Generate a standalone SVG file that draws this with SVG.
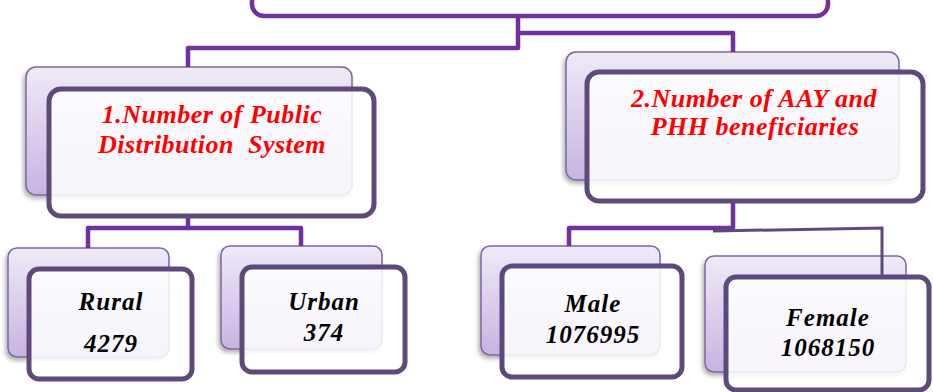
<svg xmlns="http://www.w3.org/2000/svg" width="933" height="392" viewBox="0 0 933 392">
<defs>
<linearGradient id="bg" x1="0" y1="0" x2="0" y2="1">
<stop offset="0" stop-color="#efeaf7"/>
<stop offset="1" stop-color="#c6b4e1"/>
</linearGradient>
<filter id="sh" x="-10%" y="-10%" width="120%" height="130%">
<feDropShadow dx="-2" dy="3" stdDeviation="2" flood-color="#000" flood-opacity="0.3"/>
</filter>
</defs>
<style>
.back{fill:url(#bg);stroke:#8064a2;stroke-width:1.5;filter:url(#sh)}
.front{fill:#ffffff;fill-opacity:0.85;stroke:#5f497a;stroke-width:5}
.conn{fill:none;stroke:#7030a0;stroke-width:4.5;stroke-linejoin:round}
.conn2{fill:none;stroke:#5f497a;stroke-width:3}
.h{font-family:"Liberation Serif",serif;font-style:italic;font-weight:bold;font-size:26px;fill:#ff0000;text-anchor:middle;letter-spacing:0.5px}
.c{font-family:"Liberation Serif",serif;font-style:italic;font-weight:bold;font-size:25px;fill:#000;text-anchor:middle;letter-spacing:1px}
</style>
<rect width="933" height="392" fill="#fff"/>
<g id="top">
<rect x="252" y="-30" width="576" height="46" rx="12" fill="#fff" stroke="#7030a0" stroke-width="4.5"/>
</g>
<g id="pds">
<rect class="back" x="26" y="67" width="326" height="128" rx="10"/>
<rect class="front" x="49" y="89" width="325" height="127" rx="12"/>
<text class="h" x="212" y="123">1.Number of Public</text>
<text class="h" x="212" y="153" xml:space="preserve">Distribution  System</text>
</g>
<g id="aay">
<rect class="back" x="566" y="52" width="333" height="128" rx="10"/>
<rect class="front" x="587" y="72" width="336" height="129" rx="12"/>
<text class="h" x="754" y="107">2.Number of AAY and</text>
<text class="h" x="755" y="135">PHH beneficiaries</text>
</g>
<g id="rural">
<rect class="back" x="8" y="248" width="161" height="109" rx="9"/>
<rect class="front" x="29" y="269" width="163" height="110" rx="10"/>
<text class="c" x="111" y="310">Rural</text>
<text class="c" x="111" y="352">4279</text>
</g>
<g id="urban">
<rect class="back" x="221" y="246" width="161" height="103" rx="9"/>
<rect class="front" x="242" y="267" width="163" height="105" rx="10"/>
<text class="c" x="324" y="310">Urban</text>
<text class="c" x="324" y="341">374</text>
</g>
<g id="male">
<rect class="back" x="481" y="246" width="179" height="109" rx="9"/>
<rect class="front" x="502" y="266" width="180" height="111" rx="10"/>
<text class="c" x="593" y="312">Male</text>
<text class="c" x="593" y="343">1076995</text>
</g>
<g id="female">
<rect class="back" x="705" y="256" width="201" height="116" rx="9"/>
<rect class="front" x="726" y="277" width="203" height="113" rx="10"/>
<text class="c" x="828" y="326">Female</text>
<text class="c" x="828" y="356">1068150</text>
</g>
<g id="connectors">
<path class="conn" d="M518 18 V48 H188 V67"/>
<path class="conn" d="M518 33 H733 V52"/>
<path class="conn" d="M188 218 V228 H88 V248 M188 228 H301 V246"/>
<path class="conn" d="M733 203 V228 H569 V246"/>
<path class="conn2" d="M713 231 L882 228 V275"/>
</g>
</svg>
